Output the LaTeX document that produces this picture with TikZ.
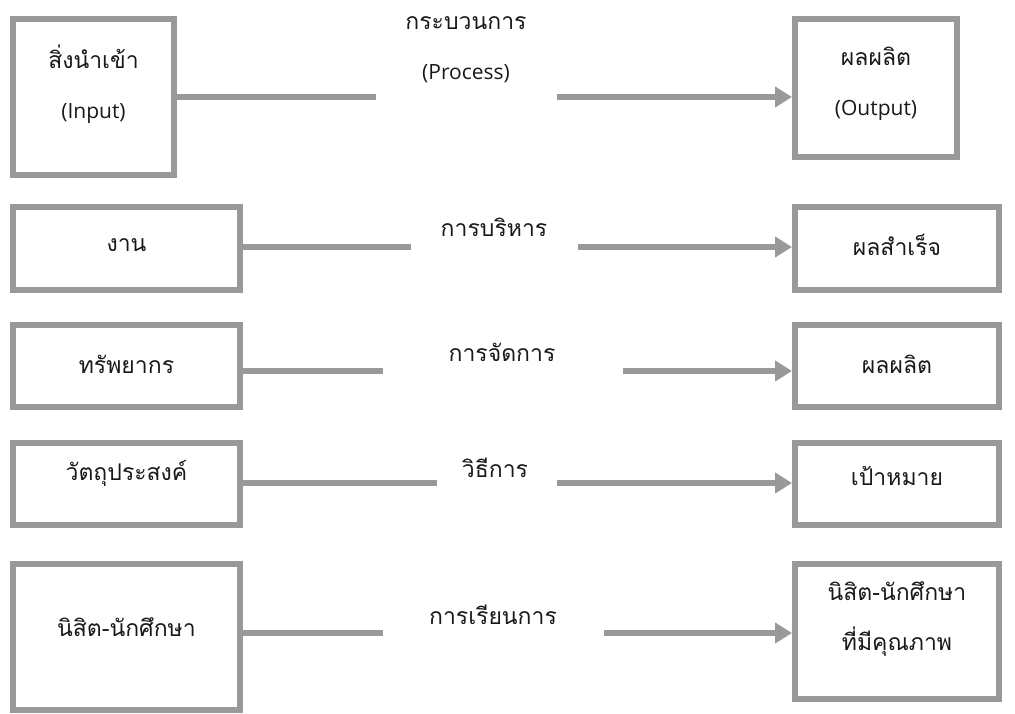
\documentclass[tikz,border=0pt]{standalone}
\usepackage{fontspec}
\setmainfont[Script=Thai]{Loma}
\newfontfamily\latf{Open Sans}
\usetikzlibrary{arrows.meta}
\definecolor{lgray}{RGB}{153,153,153}
\begin{document}
\begin{tikzpicture}[x=1pt,y=-1pt,
  box/.style={draw=lgray,line width=6pt,rectangle,inner sep=0pt},
  txt/.style={font=\fontsize{23}{50}\selectfont,align=center,inner sep=0pt,text=black!90},
  conn/.style={draw=lgray,line width=6pt},
  arr/.style={conn,-{Triangle[length=17pt,width=20pt]}}]
\useasboundingbox (0,0) rectangle (1015,714);
% left boxes
\node[box,minimum width=161pt,minimum height=156pt] (in1) at (93.5,97) {};
\node[box,minimum width=227pt,minimum height=83pt] (in2) at (126.5,248.5) {};
\node[box,minimum width=227pt,minimum height=82pt] (in3) at (126.5,366) {};
\node[box,minimum width=227pt,minimum height=82pt] (in4) at (126.5,484) {};
\node[box,minimum width=227pt,minimum height=146pt] (in5) at (126.5,637) {};
% right boxes
\node[box,minimum width=162pt,minimum height=138pt] (out1) at (876,88) {};
\node[box,minimum width=204pt,minimum height=83pt] (out2) at (897,248.5) {};
\node[box,minimum width=204pt,minimum height=82pt] (out3) at (897,366) {};
\node[box,minimum width=204pt,minimum height=82pt] (out4) at (897,484) {};
\node[box,minimum width=204pt,minimum height=135pt] (out5) at (897,631.5) {};
% texts in boxes
\node[txt] (tin1) at (93.5,84) {สิ่งนำเข้า\\{\latf\fontsize{21}{50}\selectfont (Input)}};
\node[txt] (tin2) at (126.5,245) {งาน};
\node[txt] (tin3) at (126.5,364) {ทรัพยากร};
\node[txt] (tin4) at (126.5,473) {วัตถุประสงค์};
\node[txt] (tin5) at (126.5,627) {นิสิต-นักศึกษา};
\node[txt] (tout1) at (876,84) {ผลผลิต\\{\latf\fontsize{21}{50}\selectfont (Output)}};
\node[txt] (tout2) at (897,245) {ผลสำเร็จ};
\node[txt] (tout3) at (897,364) {ผลผลิต};
\node[txt] (tout4) at (897,476) {เป้าหมาย};
\node[txt] (tout5) at (897,619) {นิสิต-นักศึกษา\\ที่มีคุณภาพ};
% process labels
\node[txt] (p1) at (466,50) {กระบวนการ\\{\latf\fontsize{21}{50}\selectfont (Process)}};
\node[txt] (p2) at (494,227) {การบริหาร};
\node[txt] (p3) at (502,352) {การจัดการ};
\node[txt] (p4) at (495,468) {วิธีการ};
\node[txt] (p5) at (493,615) {การเรียนการ};
% connector ends
\coordinate (a1) at (376,97);  \coordinate (b1) at (557,97);
\coordinate (a2) at (411,247); \coordinate (b2) at (578,247);
\coordinate (a3) at (383,371); \coordinate (b3) at (623,371);
\coordinate (a4) at (437,483); \coordinate (b4) at (557,483);
\coordinate (a5) at (383,633); \coordinate (b5) at (604,633);
\foreach \i in {1,...,5}{
  \draw[conn] (in\i.east |- a\i) -- (a\i);
  \draw[arr] (b\i) -- (out\i.west |- b\i);
}
\end{tikzpicture}
\end{document}
